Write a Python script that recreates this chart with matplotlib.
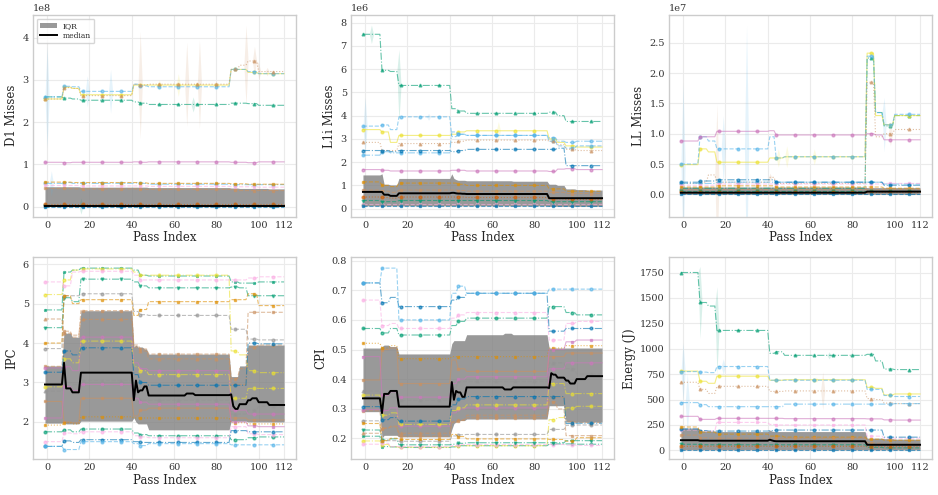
import numpy as np
import matplotlib
matplotlib.use("Agg")
import matplotlib.pyplot as plt
from matplotlib.patches import Patch
from matplotlib.lines import Line2D

# ---------------- data ----------------
PASS_FIRST, PASS_LAST = -1, 112
XTICKS = [0, 20, 40, 60, 80, 100, 112]
# pass index where each step segment starts (series) and fine segments (median / IQR)
SEG_STARTS = [-1, 8, 12, 16, 41, 44, 48, 87, 91, 95, 100]
FINE_STARTS = [-1, 8, 9, 12, 16, 41, 42, 43, 44, 46, 48, 66, 70, 87, 88, 89, 91, 95, 97, 100, 105]

# counter panels: benchmark styles (color, linestyle, marker)
CNT_COLORS = ["#029e73", "#ece133", "#56b4e9", "#ca9161", "#cc78bc", "#56b4e9", "#fbafe4",
              "#0173b2", "#de8f05", "#949494", "#ca9161", "#029e73", "#d55e00", "#0173b2"]
CNT_LS = ["-.", "-", "--", ":", "-", "-.", "--", "-.", "--", "--", "--", "--", ":", "--"]
CNT_MK = ["^", "o", "o", "^", "o", "o", "s", "o", "s", "o", "s", "v", "o", "s"]

# D1 misses (x1e8)
D1 = [
    [2.60, 2.57, 2.55, 2.52, 2.48, 2.45, 2.42, 2.45, 2.45, 2.44, 2.40],
    [2.55, 2.83, 2.80, 2.65, 2.88, 2.88, 2.88, 3.25, 3.25, 3.18, 3.15],
    [2.60, 2.85, 2.84, 2.73, 2.90, 2.86, 2.84, 3.25, 3.25, 3.20, 3.15],
    [2.55, 2.82, 2.80, 2.63, 2.90, 2.88, 2.90, 3.25, 3.35, 3.45, 3.20],
    [1.05, 1.04, 1.05, 1.05, 1.06, 1.05, 1.06, 1.05, 1.05, 1.04, 1.06],
    [0.55, 0.57, 0.55, 0.55, 0.56, 0.55, 0.53, 0.52, 0.52, 0.52, 0.52],
    [0.50, 0.50, 0.50, 0.49, 0.49, 0.49, 0.48, 0.47, 0.47, 0.47, 0.46],
    [0.04, 0.04, 0.04, 0.04, 0.04, 0.04, 0.04, 0.04, 0.04, 0.04, 0.04],
    [0.58, 0.58, 0.57, 0.57, 0.57, 0.56, 0.55, 0.54, 0.54, 0.53, 0.53],
    [0.02, 0.02, 0.02, 0.02, 0.02, 0.02, 0.02, 0.02, 0.02, 0.02, 0.02],
    [0.43, 0.43, 0.42, 0.42, 0.42, 0.41, 0.41, 0.40, 0.38, 0.38, 0.38],
    [0.01, 0.01, 0.01, 0.01, 0.01, 0.01, 0.01, 0.01, 0.01, 0.01, 0.01],
    [0.05, 0.05, 0.05, 0.05, 0.05, 0.05, 0.05, 0.05, 0.05, 0.05, 0.05],
    [0.00, 0.00, 0.00, 0.00, 0.00, 0.00, 0.00, 0.00, 0.00, 0.00, 0.00],
]
D1_Q1 = [0.003] * 21
D1_Q3 = [0.47, 0.47, 0.47, 0.47, 0.46, 0.46, 0.46, 0.46, 0.46, 0.46, 0.45,
         0.45, 0.45, 0.44, 0.44, 0.44, 0.43, 0.43, 0.43, 0.43, 0.42]
D1_MED = [0.02] * 21
# confidence-band spikes: (series row, pass index, band top)
D1_SPIKES = [(2, 0, 3.8), (5, 2, 0.85), (2, 19, 3.1), (2, 30, 3.25), (3, 44, 4.15),
             (1, 53, 3.0), (1, 62, 3.15), (3, 66, 3.9), (0, 69, 2.6), (3, 72, 3.95),
             (3, 94, 4.3), (3, 98, 3.8), (3, 100, 3.4), (3, 104, 3.3), (11, 16, 0.2)]

# L1i misses (x1e6)
L1I = [
    [7.50, 5.95, 5.90, 5.30, 4.30, 4.20, 4.10, 4.15, 4.00, 3.75, 3.75],
    [3.40, 3.30, 2.85, 3.15, 3.20, 3.30, 3.35, 3.00, 2.85, 2.70, 2.65],
    [3.55, 3.60, 3.40, 3.95, 3.10, 3.20, 3.15, 2.90, 2.70, 2.60, 2.70],
    [2.85, 2.50, 2.50, 2.80, 2.85, 2.90, 2.95, 2.90, 2.75, 2.55, 2.50],
    [1.68, 1.65, 1.62, 1.62, 1.65, 1.65, 1.62, 1.60, 1.70, 1.72, 1.68],
    [2.30, 2.45, 2.40, 2.40, 3.30, 3.20, 3.15, 3.05, 2.90, 2.85, 2.90],
    [0.20, 0.20, 0.20, 0.20, 0.20, 0.20, 0.20, 0.20, 0.20, 0.20, 0.20],
    [2.50, 2.50, 2.45, 2.50, 2.45, 2.50, 2.55, 2.55, 2.60, 1.85, 1.85],
    [1.15, 1.00, 0.95, 1.10, 1.10, 1.05, 1.00, 0.85, 0.85, 0.75, 0.75],
    [0.15, 0.15, 0.15, 0.15, 0.15, 0.15, 0.15, 0.15, 0.15, 0.15, 0.15],
    [0.80, 0.75, 0.70, 0.80, 0.80, 0.78, 0.75, 0.70, 0.70, 0.65, 0.65],
    [0.35, 0.30, 0.30, 0.35, 0.35, 0.35, 0.35, 0.30, 0.30, 0.30, 0.30],
    [0.50, 0.48, 0.45, 0.50, 0.50, 0.50, 0.48, 0.42, 0.42, 0.40, 0.40],
    [0.12, 0.12, 0.12, 0.12, 0.12, 0.12, 0.12, 0.12, 0.12, 0.12, 0.12],
]
L1I_Q1 = [0.12] * 13 + [0.10] * 8
L1I_Q3 = [1.45, 1.50, 1.05, 1.02, 1.30, 1.50, 1.30, 1.25, 1.22, 1.22, 1.20,
          1.20, 1.18, 1.05, 1.05, 1.05, 1.00, 0.85, 0.85, 0.82, 0.80]
L1I_MED = [0.72, 0.72, 0.60, 0.55, 0.66, 0.68, 0.68, 0.66, 0.65, 0.64, 0.63,
           0.63, 0.63, 0.45, 0.45, 0.45, 0.45, 0.45, 0.45, 0.45, 0.45]
L1I_SPIKES = [(2, 0, 4.8), (2, 30, 4.1), (0, 16, 6.85), (1, 63, 3.75), (0, 3, 7.9)]

# LL misses (x1e7)
LL = [
    [0.10, 0.10, 0.10, 0.10, 0.10, 0.10, 0.10, 2.25, 1.35, 1.13, 1.30],
    [0.49, 0.75, 0.70, 0.53, 0.60, 0.60, 0.62, 2.33, 1.30, 1.15, 1.30],
    [0.50, 0.95, 0.88, 0.75, 0.95, 0.60, 0.62, 2.28, 1.35, 1.15, 1.32],
    [0.18, 0.20, 0.32, 0.20, 0.28, 0.18, 0.18, 1.85, 0.95, 1.00, 1.07],
    [0.88, 0.95, 0.95, 1.04, 1.05, 0.98, 0.98, 1.00, 0.98, 0.90, 0.90],
    [0.18, 0.18, 0.18, 0.20, 0.20, 0.20, 0.20, 0.20, 0.20, 0.17, 0.17],
    [0.15, 0.15, 0.15, 0.17, 0.17, 0.17, 0.17, 0.17, 0.17, 0.18, 0.18],
    [0.20, 0.22, 0.22, 0.24, 0.24, 0.20, 0.20, 0.20, 0.20, 0.15, 0.15],
    [0.12, 0.12, 0.12, 0.14, 0.14, 0.12, 0.12, 0.12, 0.12, 0.10, 0.10],
    [0.05, 0.05, 0.05, 0.05, 0.05, 0.05, 0.05, 0.05, 0.05, 0.05, 0.05],
    [0.08, 0.08, 0.08, 0.08, 0.08, 0.08, 0.08, 0.08, 0.08, 0.08, 0.08],
    [0.06, 0.06, 0.06, 0.06, 0.06, 0.06, 0.06, 0.06, 0.06, 0.06, 0.06],
    [0.03, 0.03, 0.03, 0.03, 0.03, 0.03, 0.03, 0.03, 0.03, 0.03, 0.03],
    [0.00, 0.00, 0.00, 0.00, 0.00, 0.00, 0.00, 0.00, 0.00, 0.00, 0.00],
]
LL_Q1 = [0.0] * 21
LL_Q3 = [0.12] * 13 + [0.11] * 8
LL_MED = [0.027] * 13 + [0.045] * 8
LL_SPIKES = [(2, 0, 1.85), (3, 16, 1.5), (2, 19, 1.3), (2, 30, 2.8), (1, 45, 0.75),
             (1, 49, 0.8), (1, 62, 0.75), (2, 95, 0.7), (3, 41, 0.35), (3, 98, 1.2)]

# Energy (J)
ENERGY = [
    [1750, 1455, 1420, 1180, 955, 970, 935, 945, 880, 800, 795],
    [780, 680, 660, 730, 690, 690, 695, 620, 610, 545, 555],
    [775, 770, 765, 825, 690, 690, 690, 600, 600, 540, 530],
    [670, 600, 560, 630, 580, 580, 585, 510, 500, 465, 460],
    [335, 305, 305, 315, 315, 315, 312, 310, 310, 300, 298],
    [470, 450, 430, 430, 430, 430, 455, 455, 455, 455, 460],
    [200, 190, 190, 275, 255, 250, 250, 140, 140, 120, 120],
    [210, 195, 190, 190, 195, 200, 200, 200, 200, 130, 130],
    [230, 180, 180, 160, 140, 140, 130, 110, 110, 100, 100],
    [20, 20, 20, 20, 20, 20, 20, 20, 20, 20, 20],
    [150, 125, 120, 120, 120, 120, 120, 75, 70, 60, 60],
    [60, 55, 55, 55, 55, 55, 55, 30, 30, 25, 25],
    [40, 40, 40, 40, 40, 40, 40, 35, 35, 35, 35],
    [5, 5, 5, 5, 5, 5, 5, 5, 5, 5, 5],
]
ENERGY_Q1 = [5] * 21
ENERGY_Q3 = [220, 195, 190, 190, 185, 200, 190, 185, 185, 185, 185,
             185, 185, 120, 120, 120, 120, 115, 115, 110, 110]
ENERGY_MED = [100, 95, 95, 95, 95, 105, 98, 92, 90, 90, 90,
              90, 90, 55, 55, 55, 55, 55, 55, 55, 55]
ENERGY_SPIKES = [(2, 0, 1060), (2, 19, 900), (3, 66, 770), (0, 8, 1810), (0, 16, 1610),
                 (5, 2, 760), (1, 63, 720), (0, 69, 970)]

# performance panels: benchmark styles
PERF_COLORS = ["#029e73", "#ece133", "#fbafe4", "#029e73", "#949494", "#de8f05", "#ca9161",
               "#ca9161", "#cc78bc", "#ece133", "#0173b2", "#949494", "#ca9161", "#de8f05",
               "#029e73", "#fbafe4", "#0173b2", "#56b4e9", "#cc78bc"]
PERF_LS = ["-.", "-.", "--", "-.", "--", "--", "--", "--", "-", "-.", "-.", "--", "-", ":",
           "-.", "--", "-.", "--", "-"]
PERF_MK = ["*", "o", "o", "v", "o", "s", "^", "s", "o", "o", "o", "^", "s", "s",
           "o", "o", "o", "o", "s"]

IPC = [
    [4.84, 5.80, 5.85, 5.90, 5.85, 5.72, 5.70, 5.55, 5.52, 5.52, 5.55],
    [5.23, 5.60, 5.85, 5.88, 5.80, 5.72, 5.72, 3.80, 3.70, 3.30, 3.25],
    [5.55, 5.45, 5.80, 5.82, 5.72, 5.60, 5.60, 5.60, 5.60, 5.65, 5.68],
    [4.39, 5.15, 5.05, 5.62, 5.55, 5.45, 5.40, 5.42, 5.40, 5.20, 5.20],
    [3.86, 5.20, 5.20, 5.25, 4.80, 4.72, 4.70, 4.35, 4.35, 4.10, 4.08],
    [4.00, 5.20, 5.00, 5.10, 4.70, 4.85, 5.05, 5.10, 5.10, 5.25, 4.95],
    [4.61, 4.25, 4.20, 4.60, 3.90, 3.80, 3.60, 2.95, 2.95, 3.90, 3.95],
    [3.41, 4.30, 4.15, 4.82, 3.95, 3.85, 3.72, 3.10, 3.35, 4.78, 4.78],
    [3.37, 3.40, 3.30, 4.15, 3.50, 3.35, 3.30, 2.30, 2.30, 2.20, 2.20],
    [2.89, 3.60, 3.50, 4.05, 3.40, 3.30, 3.20, 2.60, 2.60, 2.85, 2.85],
    [3.26, 3.80, 3.70, 3.88, 3.20, 3.00, 2.93, 2.93, 2.93, 4.00, 3.98],
    [2.78, 3.00, 2.95, 3.05, 2.70, 2.55, 2.55, 2.20, 2.20, 2.30, 2.40],
    [2.52, 2.00, 1.98, 2.60, 2.15, 2.30, 2.35, 2.10, 2.10, 2.05, 2.05],
    [1.92, 1.98, 1.95, 2.13, 2.10, 2.10, 2.10, 1.98, 1.98, 1.95, 1.95],
    [1.75, 1.80, 1.75, 1.82, 1.72, 1.68, 1.65, 1.55, 1.55, 1.60, 1.62],
    [1.50, 1.72, 1.70, 1.75, 1.65, 1.62, 1.60, 1.88, 1.88, 1.70, 1.68],
    [1.38, 1.52, 1.48, 1.55, 1.50, 1.48, 1.48, 1.78, 1.78, 1.75, 1.75],
    [1.38, 1.30, 1.30, 1.50, 1.45, 1.40, 1.45, 1.42, 1.42, 1.42, 1.42],
    [2.10, 2.90, 2.80, 2.95, 2.60, 2.50, 2.45, 2.00, 2.00, 1.90, 1.88],
]
IPC_Q1 = [1.97, 2.00, 1.95, 1.95, 2.02, 2.10, 2.00, 1.95, 1.95, 1.95, 1.80,
          1.80, 1.80, 2.02, 2.02, 2.02, 2.02, 2.00, 2.00, 2.00, 2.00]
IPC_Q3 = [3.42, 4.30, 4.25, 4.15, 4.82, 3.90, 3.95, 3.90, 3.90, 3.85, 3.72,
          3.72, 3.72, 3.15, 3.15, 3.15, 3.42, 3.95, 3.95, 3.95, 3.95]
IPC_MED = [2.95, 3.50, 2.85, 2.75, 3.25, 2.55, 3.05, 2.75, 2.80, 2.90, 2.67,
           2.72, 2.68, 2.70, 2.40, 2.33, 2.45, 2.55, 2.60, 2.50, 2.43]

CPI = [
    [0.207, 0.172, 0.171, 0.169, 0.171, 0.175, 0.175, 0.180, 0.181, 0.181, 0.180],
    [0.191, 0.179, 0.171, 0.170, 0.172, 0.175, 0.175, 0.263, 0.270, 0.303, 0.308],
    [0.180, 0.183, 0.172, 0.172, 0.175, 0.179, 0.179, 0.179, 0.179, 0.177, 0.176],
    [0.228, 0.194, 0.198, 0.178, 0.180, 0.183, 0.185, 0.185, 0.185, 0.192, 0.192],
    [0.259, 0.192, 0.192, 0.190, 0.208, 0.212, 0.213, 0.230, 0.230, 0.244, 0.245],
    [0.250, 0.192, 0.200, 0.196, 0.213, 0.206, 0.198, 0.196, 0.196, 0.190, 0.202],
    [0.217, 0.235, 0.238, 0.217, 0.256, 0.263, 0.278, 0.339, 0.339, 0.256, 0.253],
    [0.293, 0.233, 0.241, 0.207, 0.253, 0.260, 0.269, 0.323, 0.299, 0.209, 0.209],
    [0.297, 0.294, 0.303, 0.241, 0.286, 0.299, 0.303, 0.435, 0.435, 0.455, 0.455],
    [0.346, 0.278, 0.286, 0.247, 0.294, 0.303, 0.313, 0.385, 0.385, 0.351, 0.351],
    [0.307, 0.263, 0.270, 0.258, 0.313, 0.333, 0.341, 0.341, 0.341, 0.250, 0.251],
    [0.360, 0.333, 0.339, 0.328, 0.370, 0.392, 0.392, 0.455, 0.455, 0.435, 0.417],
    [0.397, 0.500, 0.505, 0.385, 0.465, 0.435, 0.426, 0.476, 0.476, 0.488, 0.488],
    [0.521, 0.505, 0.513, 0.469, 0.476, 0.476, 0.476, 0.505, 0.505, 0.513, 0.513],
    [0.571, 0.556, 0.571, 0.549, 0.581, 0.595, 0.606, 0.645, 0.645, 0.625, 0.617],
    [0.667, 0.581, 0.588, 0.571, 0.606, 0.617, 0.625, 0.532, 0.532, 0.588, 0.595],
    [0.725, 0.658, 0.676, 0.645, 0.667, 0.676, 0.690, 0.562, 0.562, 0.571, 0.571],
    [0.725, 0.775, 0.775, 0.600, 0.690, 0.714, 0.690, 0.704, 0.704, 0.704, 0.704],
    [0.476, 0.345, 0.357, 0.339, 0.385, 0.400, 0.408, 0.500, 0.500, 0.526, 0.532],
]
CPI_Q1 = [0.290, 0.200, 0.210, 0.210, 0.205, 0.230, 0.250, 0.255, 0.260, 0.260, 0.265,
          0.265, 0.265, 0.310, 0.310, 0.310, 0.310, 0.255, 0.255, 0.255, 0.255]
CPI_Q3 = [0.505, 0.510, 0.515, 0.510, 0.485, 0.520, 0.530, 0.530, 0.530, 0.530, 0.550,
          0.555, 0.550, 0.505, 0.505, 0.505, 0.505, 0.505, 0.505, 0.505, 0.505]
CPI_MED = [0.335, 0.285, 0.350, 0.360, 0.307, 0.390, 0.330, 0.360, 0.355, 0.340, 0.372,
           0.365, 0.372, 0.370, 0.420, 0.415, 0.405, 0.395, 0.385, 0.400, 0.410]

# ---------------- plotting ----------------
plt.rcParams["font.family"] = ["DejaVu Serif"]
plt.rcParams["axes.edgecolor"] = "#cccccc"
plt.rcParams["axes.linewidth"] = 1.0
plt.rcParams["grid.color"] = "#ebebeb"
plt.rcParams["text.color"] = "#262626"
plt.rcParams["axes.labelcolor"] = "#262626"
plt.rcParams["xtick.color"] = "#333333"
plt.rcParams["ytick.color"] = "#333333"

x = np.arange(PASS_FIRST, PASS_LAST + 1)


def steps(vals, starts):
    idx = np.searchsorted(starts, x, side="right") - 1
    return np.asarray(vals, dtype=float)[idx]


panels = [
    ("D1 Misses", D1, D1_Q1, D1_Q3, D1_MED, D1_SPIKES, 1e8, "cnt", (-0.236e8, 4.54e8)),
    ("L1i Misses", L1I, L1I_Q1, L1I_Q3, L1I_MED, L1I_SPIKES, 1e6, "cnt", (-0.34e6, 8.33e6)),
    ("LL Misses", LL, LL_Q1, LL_Q3, LL_MED, LL_SPIKES, 1e7, "cnt", (-0.367e7, 2.96e7)),
    ("IPC", IPC, IPC_Q1, IPC_Q3, IPC_MED, [], 1.0, "perf", (1.06, 6.17)),
    ("CPI", CPI, CPI_Q1, CPI_Q3, CPI_MED, [], 1.0, "perf", (0.13, 0.811)),
    ("Energy (J)", ENERGY, ENERGY_Q1, ENERGY_Q3, ENERGY_MED, ENERGY_SPIKES, 1.0, "cnt", (-85, 1898)),
]

fig, axes = plt.subplots(2, 3, figsize=(9.38, 4.95), dpi=100)
fig.subplots_adjust(left=0.0352, right=0.9936, top=0.9697, bottom=0.0727,
                    wspace=0.209, hspace=0.203)

for ax, (ylabel, series, q1, q3, med, spikes, unit, kind, ylim) in zip(axes.flat, panels):
    cols, lss, mks = ((CNT_COLORS, CNT_LS, CNT_MK) if kind == "cnt"
                      else (PERF_COLORS, PERF_LS, PERF_MK))
    ax.fill_between(x, steps(q1, FINE_STARTS) * unit, steps(q3, FINE_STARTS) * unit,
                    color="gray", alpha=0.8, linewidth=0, zorder=1)
    for i, row in enumerate(series):
        y = steps(row, SEG_STARTS) * unit
        top = y.copy()
        for (si, p, v) in spikes:
            if si == i:
                top[p - PASS_FIRST] = v * unit
        if np.any(top != y):
            ax.fill_between(x, 2 * y - top, top, color=cols[i], alpha=0.15,
                            linewidth=0, zorder=1.5)
        ax.plot(x, y, color=cols[i], linestyle=lss[i], marker=mks[i], markersize=2.0,
                markevery=9, linewidth=0.8, alpha=0.6, zorder=2)
    ax.plot(x, steps(med, FINE_STARTS) * unit, color="black", linewidth=1.4, zorder=3)
    ax.set_ylim(*ylim)
    ax.set_xticks(XTICKS)
    ax.set_xlabel("Pass Index", fontsize=8.5, labelpad=1)
    ax.set_ylabel(ylabel, fontsize=8.5, labelpad=3)
    ax.tick_params(axis="both", labelsize=7, length=0, pad=3)
    ax.grid(True, linewidth=0.8)
    ax.set_axisbelow(True)
    ax.yaxis.get_offset_text().set_fontsize(7)

handles = [Patch(facecolor="gray", alpha=0.8, label="IQR"),
           Line2D([0], [0], color="black", linewidth=1.4, label="median")]
axes[0, 0].legend(handles=handles, loc="upper left", fontsize=5.5, frameon=True,
                  handlelength=2.2, borderpad=0.4, labelspacing=0.3)

fig.savefig("out.png", dpi=100)
